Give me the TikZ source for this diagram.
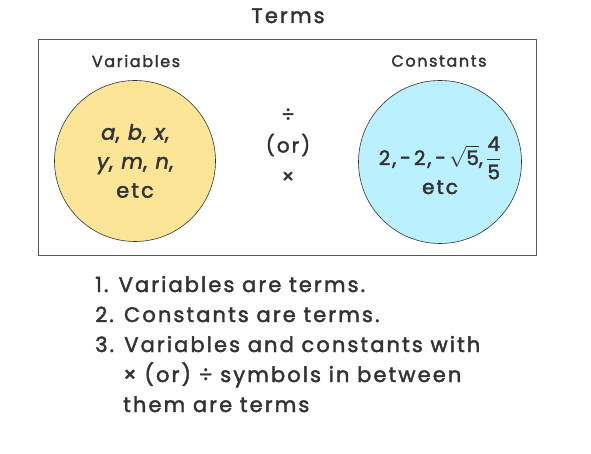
\documentclass[tikz,border=0pt]{standalone}
\usepackage{fontspec}
\usepackage{amsmath}
\setmainfont{Poppins}[LetterSpace=10, FakeBold=2]
\usetikzlibrary{positioning}
\definecolor{varyellow}{HTML}{FDE598}
\definecolor{constblue}{HTML}{BAF0FF}
\definecolor{inkgray}{HTML}{333333}
\begin{document}
\begin{tikzpicture}[
    x=1pt, y=-1pt,
    every node/.style={text=inkgray},
    frame/.style={draw=gray!70!black, line width=1pt},
    bubble/.style={circle, draw=inkgray, line width=0.6pt, inner sep=0pt, align=center, font=\fontsize{21}{29}\selectfont},
    heading/.style={font=\fontsize{16}{20}\selectfont},
    ops/.style={align=center, font=\fontsize{20}{31}\selectfont},
    item/.style={anchor=base west, inner sep=0pt, font=\fontsize{21}{30}\selectfont}
]
    \useasboundingbox (0,0) rectangle (591,454);

    % Title and frame
    \node [anchor=base, font=\fontsize{21}{26}\selectfont] (title) at (288,23) {Terms};
    \draw [frame] (38,40) rectangle (536,255);

    % Circles
    \node [heading] (varlabel) at (136,61) {Variables};
    \node [heading] (constlabel) at (439,61) {Constants};
    \node [bubble, fill=varyellow, minimum size=161pt] (variables) at (135,161)
        {\itshape a{\upshape,}\ b{\upshape,}\ x{\upshape,}\\ \itshape y{\upshape,}\ m{\upshape,}\ n{\upshape,}\\ etc};
    \node [bubble, fill=constblue, minimum size=163pt] (constants) at (440,162) {};
    \node [align=center, font=\fontsize{20}{29}\selectfont, anchor=base] (constline) at (440,165)
        {2,\,−\,2,\,−\,$\sqrt{\text{5}}$,\,$\dfrac{\text{4}}{\text{5}}$};
    \node [anchor=base, font=\fontsize{20}{29}\selectfont] (constetc) at (440,194) {etc};

    % Operators
    \node [ops] (operators) at (288,146) {÷\\(or)\\×};

    % Rules
    \node [item] (rule1) at (95,292) {1. Variables are terms.};
    \node [item] (rule2) at (95,322) {2. Constants are terms.};
    \node [item] (rule3) at (95,352) {3. Variables and constants with};
    \node [item] (rule3b) at (123,382) {× (or) ÷ symbols in between};
    \node [item] (rule3c) at (123,412) {them are terms};
\end{tikzpicture}
\end{document}
